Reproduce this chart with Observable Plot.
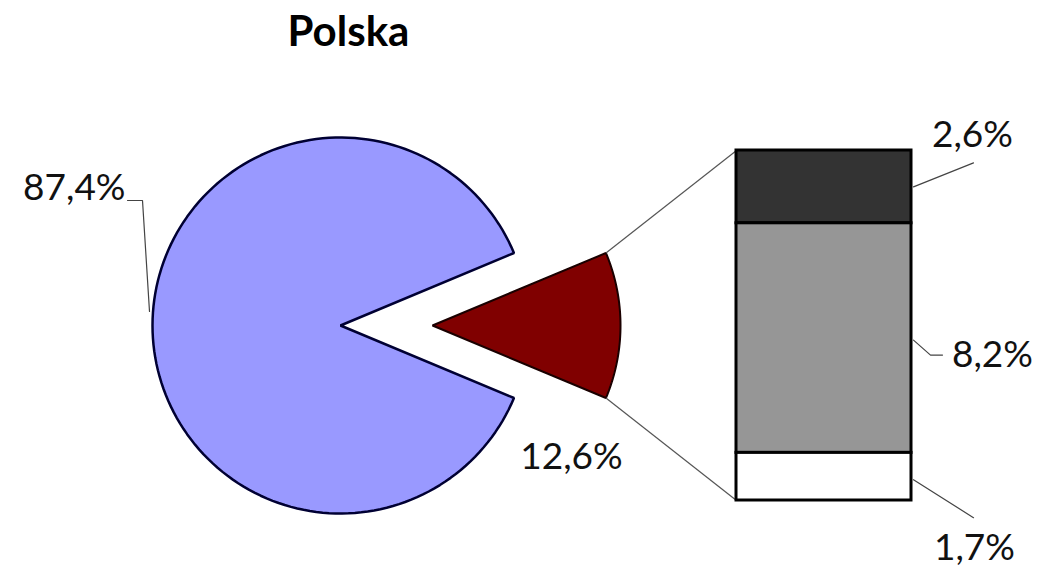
<!DOCTYPE html>
<html><head><meta charset="utf-8">
<script src="https://cdn.jsdelivr.net/npm/d3@7"></script>
<script src="https://cdn.jsdelivr.net/npm/@observablehq/plot@0.6"></script>
<style>body{margin:0;background:#fff} svg{display:block}</style>
</head><body><div id="chart"></div>
<script>
// ---- data ----
const title = "Polska";
const pieSlices = ["reszta", "szczegóły"];
const pieValues = [87.4, 12.6];
const pieLabels = ["87,4%", "12,6%"];
const barSegments = ["s1", "s2", "s3"];
const barValues = [2.6, 8.2, 1.7];
const barLabels = ["2,6%", "8,2%", "1,7%"];

// ---- layout & style ----
const W = 1043, H = 567;
const C = {x: 340, y: 325}, R = 188, explode = 92;
const bar = {x1: 736, x2: 911, y1: 150, y2: 500};
const pieFill = ["#9999ff", "#800000"];
const pieStroke = ["#000033", "#1a0000"];
const barFill = ["#333333", "#969696", "#ffffff"];
const font = "Lato, 'Open Sans', sans-serif";
const fs = 37;

// ---- geometry from data ----
const total = d3.sum(pieValues);
const half = Math.PI * pieValues[1] / total; // half-angle of detail slice
function arcPts(name, cx, cy, a0, a1, n = 160) {
  const pts = [{slice: name, x: cx, y: cy}];
  for (let i = 0; i <= n; i++) {
    const a = a0 + (a1 - a0) * i / n;
    pts.push({slice: name, x: cx + R * Math.cos(a), y: cy + R * Math.sin(a)});
  }
  return pts;
}
const restPoly = arcPts(pieSlices[0], C.x, C.y, half, 2 * Math.PI - half);
const detCx = C.x + explode;
const detPoly = arcPts(pieSlices[1], detCx, C.y, -half, half);

const barTotal = d3.sum(barValues);
const k = (bar.y2 - bar.y1) / barTotal;
const cum = d3.cumsum(barValues);
const barRows = barSegments.map((s, i) => ({
  seg: s, fill: barFill[i],
  y1: bar.y1 + (cum[i] - barValues[i]) * k,
  y2: bar.y1 + cum[i] * k
}));

// connector lines from detail slice to bar
const connectors = [
  {x1: detCx + R * Math.cos(-half), y1: C.y + R * Math.sin(-half), x2: bar.x1, y2: bar.y1},
  {x1: detCx + R * Math.cos(half), y1: C.y + R * Math.sin(half), x2: bar.x1, y2: bar.y2}
];

// label anchors + offsets (layout)
const pieAnchors = [{x: C.x - R, y: C.y}, {x: detCx + R, y: C.y}];
const pieLabelLayout = [
  {dx: -27, dy: -137, anchor: "end", leader: [[-3, -14], [-10, -125], [-25, -125]]},
  {dx: -49, dy: 132, anchor: "middle", leader: []}
];
const barAnchors = barRows.map(r => ({x: bar.x2, y: (r.y1 + r.y2) / 2}));
const barLabelLayout = [
  {dx: 61, dy: -52, anchor: "middle", leader: [[2, 0], [62, -24]]},
  {dx: 81, dy: 17, anchor: "middle", leader: [[2, 2], [19, 17], [31, 17]]},
  {dx: 63, dy: 71, anchor: "middle", leader: [[2, 3], [62, 41]]}
];

const labels = [];
const leaders = [];
function addLabels(texts, anchors, layout) {
  texts.forEach((t, i) => {
    const a = anchors[i], l = layout[i];
    labels.push({text: t, x: a.x + l.dx, y: a.y + l.dy, anchor: l.anchor});
    l.leader.forEach(([dx, dy]) => leaders.push({id: t, x: a.x + dx, y: a.y + dy}));
  });
}
addLabels(pieLabels, pieAnchors, pieLabelLayout);
addLabels(barLabels, barAnchors, barLabelLayout);

const chart = Plot.plot({
  width: W, height: H,
  margin: 0,
  style: {fontFamily: font, background: "#fff"},
  x: {domain: [0, W], range: [0, W], axis: null},
  y: {domain: [0, H], range: [0, H], axis: null},
  marks: [
    Plot.line(restPoly, {x: "x", y: "y", curve: "linear-closed", fill: pieFill[0], stroke: pieStroke[0], strokeWidth: 2.5, strokeLinejoin: "miter"}),
    Plot.line(detPoly, {x: "x", y: "y", curve: "linear-closed", fill: pieFill[1], stroke: pieStroke[1], strokeWidth: 2, strokeLinejoin: "miter"}),
    Plot.link(connectors, {x1: "x1", y1: "y1", x2: "x2", y2: "y2", stroke: "#555", strokeWidth: 1.2}),
    Plot.rect(barRows, {x1: () => bar.x1, x2: () => bar.x2, y1: "y1", y2: "y2", fill: d => d.fill, stroke: "#000", strokeWidth: 3}),
    Plot.line(leaders, {x: "x", y: "y", z: "id", stroke: "#444", strokeWidth: 1.2}),
    ...["start", "middle", "end"].map(anc =>
      Plot.text(labels.filter(d => d.anchor === anc), {x: "x", y: "y", text: "text", textAnchor: anc, fontSize: fs, fill: "#111"})),
    Plot.text([title], {frameAnchor: "top-left", dx: 348, dy: 32, text: d => d, fontSize: 42, fontWeight: "bold", fill: "#000", textAnchor: "middle", lineAnchor: "middle"})
  ]
});
document.getElementById("chart").append(chart);
</script>
</body></html>
